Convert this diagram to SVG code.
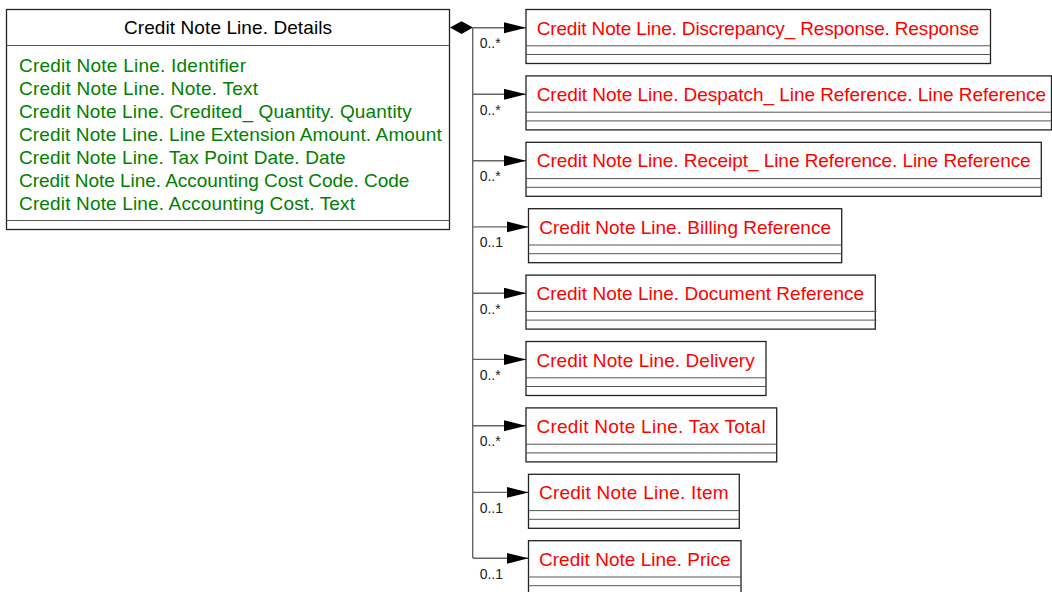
<svg xmlns="http://www.w3.org/2000/svg" width="1052" height="592" viewBox="0 0 1052 592">
<style>
text{font-family:"Liberation Sans",Arial,sans-serif}
.box{fill:#fff;stroke:#222;stroke-width:1.3}
.sep{stroke:#555;stroke-width:1}
.hdr{font-size:19px;fill:#000}
.attr{font-size:19px;fill:#008000}
.cls{font-size:19px;fill:#ff0000}
.mult{font-size:14px;fill:#222}
.conn{stroke:#666;stroke-width:1.4;fill:none}
</style>
<defs>
<marker id="arr" markerUnits="userSpaceOnUse" markerWidth="23" markerHeight="12" refX="22" refY="5.5" orient="auto">
<path d="M0,0 L22,5.5 L0,11 z" fill="#000"/>
</marker>
</defs>
<rect width="1052" height="592" fill="#fff"/>
<g id="connectors">
<polygon points="450,27.6 461.5,21.3 473,27.6 461.5,33.9" fill="#000"/>
<path class="conn" d="M472.7,27.6 V558.3"/>
<line class="conn" x1="473" y1="27.7" x2="526" y2="27.7" marker-end="url(#arr)"/>
<line class="conn" x1="473" y1="94.3" x2="526" y2="94.3" marker-end="url(#arr)"/>
<line class="conn" x1="473" y1="160.7" x2="526" y2="160.7" marker-end="url(#arr)"/>
<line class="conn" x1="473" y1="226.9" x2="528.5" y2="226.9" marker-end="url(#arr)"/>
<line class="conn" x1="473" y1="293.2" x2="526" y2="293.2" marker-end="url(#arr)"/>
<line class="conn" x1="473" y1="359.4" x2="526" y2="359.4" marker-end="url(#arr)"/>
<line class="conn" x1="473" y1="425.8" x2="526" y2="425.8" marker-end="url(#arr)"/>
<line class="conn" x1="473" y1="492.4" x2="528.5" y2="492.4" marker-end="url(#arr)"/>
<line class="conn" x1="473" y1="558.3" x2="528.5" y2="558.3" marker-end="url(#arr)"/>
<text class="mult" x="479.7" y="48.3">0..*</text>
<text class="mult" x="479.7" y="114.8">0..*</text>
<text class="mult" x="479.7" y="181.2">0..*</text>
<text class="mult" x="479.7" y="247.2">0..1</text>
<text class="mult" x="479.7" y="313.7">0..*</text>
<text class="mult" x="479.7" y="379.9">0..*</text>
<text class="mult" x="479.7" y="446.3">0..*</text>
<text class="mult" x="479.7" y="512.8">0..1</text>
<text class="mult" x="479.7" y="579">0..1</text>
</g>
<g id="details">
<rect class="box" x="6.5" y="9.5" width="443" height="220"/>
<line class="sep" x1="6.5" y1="45.5" x2="449.5" y2="45.5"/>
<line class="sep" x1="6.5" y1="220.5" x2="449.5" y2="220.5"/>
<text class="hdr" x="228" y="34.3" text-anchor="middle" textLength="208">Credit Note Line. Details</text>
<text class="attr" x="19" y="71.8" textLength="227">Credit Note Line. Identifier</text>
<text class="attr" x="19" y="94.8" textLength="239">Credit Note Line. Note. Text</text>
<text class="attr" x="19" y="117.9" textLength="392.7">Credit Note Line. Credited_ Quantity. Quantity</text>
<text class="attr" x="19" y="140.9" textLength="422.7">Credit Note Line. Line Extension Amount. Amount</text>
<text class="attr" x="19" y="164" textLength="326.7">Credit Note Line. Tax Point Date. Date</text>
<text class="attr" x="19" y="187" textLength="390.3">Credit Note Line. Accounting Cost Code. Code</text>
<text class="attr" x="19" y="210" textLength="336">Credit Note Line. Accounting Cost. Text</text>
</g>
<g id="discrepancy">
<rect class="box" x="526" y="9.5" width="464.5" height="54"/>
<line class="sep" x1="526" y1="45.8" x2="990.5" y2="45.8"/>
<line class="sep" x1="526" y1="54.5" x2="990.5" y2="54.5"/>
<text class="cls" x="536.7" y="34.5" textLength="442.6">Credit Note Line. Discrepancy_ Response. Response</text>
</g>
<g id="despatch">
<rect class="box" x="526" y="75.9" width="525.5" height="54"/>
<line class="sep" x1="526" y1="112.2" x2="1051.5" y2="112.2"/>
<line class="sep" x1="526" y1="120.9" x2="1051.5" y2="120.9"/>
<text class="cls" x="536.7" y="100.9" textLength="509.3">Credit Note Line. Despatch_ Line Reference. Line Reference</text>
</g>
<g id="receipt">
<rect class="box" x="526" y="142.3" width="515.3" height="54"/>
<line class="sep" x1="526" y1="178.6" x2="1041.3" y2="178.6"/>
<line class="sep" x1="526" y1="187.3" x2="1041.3" y2="187.3"/>
<text class="cls" x="536.7" y="167.3" textLength="494">Credit Note Line. Receipt_ Line Reference. Line Reference</text>
</g>
<g id="billing">
<rect class="box" x="528.5" y="208.7" width="313.2" height="54"/>
<line class="sep" x1="528.5" y1="245" x2="841.7" y2="245"/>
<line class="sep" x1="528.5" y1="253.7" x2="841.7" y2="253.7"/>
<text class="cls" x="539.3" y="233.7" textLength="291.7">Credit Note Line. Billing Reference</text>
</g>
<g id="document">
<rect class="box" x="526" y="275.1" width="349.3" height="54"/>
<line class="sep" x1="526" y1="311.4" x2="876.5" y2="311.4"/>
<line class="sep" x1="526" y1="320.1" x2="876.5" y2="320.1"/>
<text class="cls" x="536.4" y="300.1" textLength="327.7">Credit Note Line. Document Reference</text>
</g>
<g id="delivery">
<rect class="box" x="526" y="341.5" width="240" height="54"/>
<line class="sep" x1="526" y1="377.8" x2="766" y2="377.8"/>
<line class="sep" x1="526" y1="386.5" x2="766" y2="386.5"/>
<text class="cls" x="536.4" y="366.5" textLength="218.3">Credit Note Line. Delivery</text>
</g>
<g id="taxtotal">
<rect class="box" x="526" y="407.9" width="250.7" height="54"/>
<line class="sep" x1="526" y1="444.2" x2="776.7" y2="444.2"/>
<line class="sep" x1="526" y1="452.9" x2="776.7" y2="452.9"/>
<text class="cls" x="536.4" y="432.9" textLength="229.3">Credit Note Line. Tax Total</text>
</g>
<g id="item">
<rect class="box" x="528.5" y="474.3" width="210.8" height="54"/>
<line class="sep" x1="528.5" y1="510.6" x2="739.3" y2="510.6"/>
<line class="sep" x1="528.5" y1="519.3" x2="739.3" y2="519.3"/>
<text class="cls" x="539" y="499.3" textLength="189.7">Credit Note Line. Item</text>
</g>
<g id="price">
<rect class="box" x="528.5" y="540.7" width="212.5" height="54"/>
<line class="sep" x1="528.5" y1="577" x2="741" y2="577"/>
<line class="sep" x1="528.5" y1="585.7" x2="741" y2="585.7"/>
<text class="cls" x="539" y="565.7" textLength="191.7">Credit Note Line. Price</text>
</g>
</svg>
